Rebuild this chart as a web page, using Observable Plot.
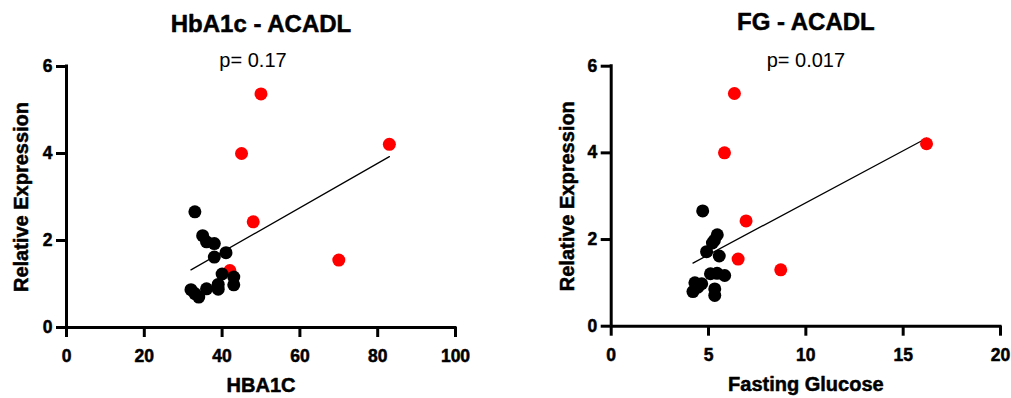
<!DOCTYPE html>
<html>
<head>
<meta charset="utf-8">
<script src="https://cdn.jsdelivr.net/npm/d3@7"></script>
<script src="https://cdn.jsdelivr.net/npm/@observablehq/plot@0.6"></script>
<style>
  html, body { margin: 0; padding: 0; background: #fff; }
  #wrap { display: flex; width: 1011px; height: 398px; }
  svg { display: block; }
</style>
</head>
<body>
<div id="wrap"></div>
<script>
// ---- Data ----
// HbA1c panel
const hbaBlackX = [33, 35, 36, 38, 41, 38, 40, 43, 43, 39, 39, 36, 32, 33, 34];
const hbaBlackY = [2.66, 2.11, 1.97, 1.93, 1.72, 1.62, 1.23, 1.16, 0.98, 0.99, 0.88, 0.89, 0.87, 0.78, 0.70];
const hbaRedX = [50, 45, 83, 48, 70, 42];
const hbaRedY = [5.37, 4.00, 4.21, 2.43, 1.55, 1.31];
// Fasting glucose panel
const fgBlackX = [4.7, 5.45, 5.3, 5.2, 4.9, 5.55, 5.1, 5.44, 5.83, 4.2, 4.3, 4.45, 4.65, 5.32, 5.32];
const fgBlackY = [2.66, 2.11, 1.98, 1.92, 1.72, 1.62, 1.21, 1.22, 1.17, 0.80, 1.00, 0.90, 0.98, 0.86, 0.71];
const fgRedX = [6.33, 5.82, 16.2, 6.93, 6.52, 8.71];
const fgRedY = [5.37, 4.00, 4.21, 2.43, 1.55, 1.30];

const yTicks = [0, 2, 4, 6];
const hbaTicks = [0, 20, 40, 60, 80, 100];
const fgTicks = [0, 5, 10, 15, 20];

const titles = ["HbA1c - ACADL", "FG - ACADL"];
const pTexts = ["p= 0.17", "p= 0.017"];
const xLabels = ["HBA1C", "Fasting Glucose"];
const yLabel = "Relative Expression";

const FONT = "'Liberation Sans', Arial, Helvetica, sans-serif";
const AXW = 3;

function toPts(xs, ys) { return xs.map((x, i) => ({x, y: ys[i]})); }

function panel(cfg) {
  const black = toPts(cfg.bx, cfg.by);
  const red = toPts(cfg.rx, cfg.ry);
  const all = black.concat(red);
  const bold = (size, extra) => Object.assign({fontSize: size, fontWeight: "bold", fill: "black", stroke: "black", strokeWidth: 0.5}, extra);
  return Plot.plot({
    width: cfg.width,
    height: 398,
    marginLeft: cfg.ml,
    marginRight: cfg.mr,
    marginTop: cfg.mt,
    marginBottom: cfg.mb,
    style: {fontFamily: FONT, fontSize: "17px", color: "black", background: "white"},
    x: {domain: cfg.xDomain, axis: null},
    y: {domain: [0, 6], axis: null},
    marks: [
      // axis lines
      Plot.ruleX([cfg.xDomain[0]], {strokeWidth: AXW, insetTop: -1.5}),
      Plot.ruleY([0], {strokeWidth: AXW, insetRight: -1.5}),
      // ticks
      Plot.ruleX(cfg.xTicks, {x: d => d, y1: 0, y2: 0, insetBottom: -10, strokeWidth: AXW}),
      Plot.ruleY(yTicks, {y: d => d, x1: 0, x2: 0, insetLeft: -10, strokeWidth: AXW}),
      // tick labels
      Plot.text(cfg.xTicks, bold(17.5, {x: d => d, y: 0, dy: 34.5, text: d => String(d), lineAnchor: "bottom"})),
      Plot.text(yTicks, bold(17.5, {x: cfg.xDomain[0], y: d => d, dx: -14, text: d => String(d), textAnchor: "end", lineAnchor: "middle"})),
      // data
      Plot.linearRegressionY(all, {x: "x", y: "y", ci: 0, stroke: "black", strokeWidth: 1.3}),
      Plot.dot(red, {x: "x", y: "y", r: 6.5, fill: "#ff0000", stroke: null}),
      Plot.dot(black, {x: "x", y: "y", r: 6.5, fill: "black", stroke: null}),
      // titles and labels
      Plot.text([cfg.title], bold(24, {frameAnchor: "top", dy: cfg.titleDy, text: d => d, lineAnchor: "bottom"})),
      Plot.text([cfg.p], {frameAnchor: "top", dx: cfg.pDx, dy: 0.5, text: d => d, lineAnchor: "bottom", fontSize: 20, fontWeight: "normal", fill: "black"}),
      Plot.text([cfg.xLabel], bold(20, {frameAnchor: "bottom", dy: 64.5, text: d => d, lineAnchor: "bottom"})),
      Plot.text([yLabel], bold(20, {frameAnchor: "left", dx: cfg.yLabDx, text: d => d, rotate: -90, textAnchor: "middle", lineAnchor: "middle"}))
    ]
  });
}

const wrap = document.getElementById("wrap");
wrap.appendChild(panel({
  width: 505, ml: 66, mr: 50, mt: 66, mb: 71,
  xDomain: [0, 100], xTicks: hbaTicks,
  bx: hbaBlackX, by: hbaBlackY, rx: hbaRedX, ry: hbaRedY,
  title: titles[0], p: pTexts[0], xLabel: xLabels[0],
  titleDy: -35, pDx: -8, yLabDx: -45
}));
wrap.appendChild(panel({
  width: 506, ml: 105.7, mr: 11, mt: 65.7, mb: 72.3,
  xDomain: [0, 20], xTicks: fgTicks,
  bx: fgBlackX, by: fgBlackY, rx: fgRedX, ry: fgRedY,
  title: titles[1], p: pTexts[1], xLabel: xLabels[1],
  titleDy: -35.7, pDx: 0, yLabDx: -43.7
}));
</script>
</body>
</html>
